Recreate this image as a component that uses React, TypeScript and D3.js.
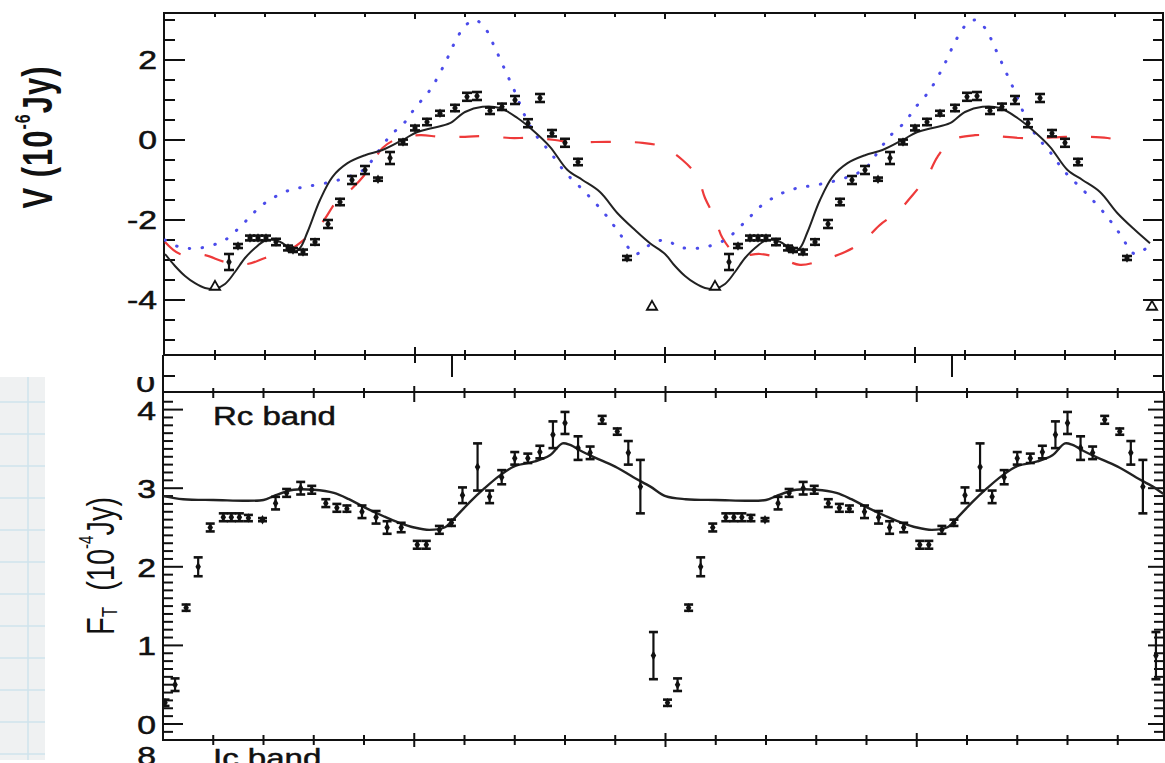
import React from "react";
import * as d3 from "d3";

// ---- V band (top panel), phase-folded, first cycle; repeated at phase + 1 ----
const PHASE_V = [0.128, 0.146, 0.170, 0.186, 0.202, 0.222, 0.246, 0.256, 0.276, 0.300, 0.326, 0.350, 0.374, 0.400, 0.426, 0.450, 0.476, 0.500, 0.524, 0.550, 0.580, 0.604, 0.624, 0.650, 0.674, 0.700, 0.726, 0.750, 0.774, 0.800, 0.826, 0.924];
const FLUX_V = [-3.05, -2.65, -2.45, -2.45, -2.45, -2.55, -2.7, -2.75, -2.8, -2.55, -2.1, -1.55, -1.0, -0.75, -0.98, -0.45, -0.05, 0.3, 0.45, 0.67, 0.8, 1.08, 1.1, 0.73, 0.83, 1.0, 0.42, 1.05, 0.17, -0.07, -0.55, -2.95];
const ERR_V = [0.2, 0.05, 0.06, 0.06, 0.06, 0.08, 0.06, 0.05, 0.06, 0.07, 0.1, 0.08, 0.1, 0.1, 0.04, 0.15, 0.06, 0.06, 0.08, 0.06, 0.08, 0.1, 0.1, 0.08, 0.08, 0.1, 0.1, 0.1, 0.08, 0.1, 0.08, 0.05];
// upper limits (open triangles)
const LIMIT_PHASE = [0.1, 0.974];
const LIMIT_V = [-3.67, -4.17];

// model curves for V
const SOLID_PHASE = [0.0, 0.02, 0.04, 0.06, 0.08, 0.10, 0.12, 0.14, 0.16, 0.18, 0.20, 0.22, 0.24, 0.255, 0.27, 0.285, 0.31, 0.335, 0.365, 0.40, 0.435, 0.475, 0.505, 0.535, 0.57, 0.60, 0.635, 0.67, 0.705, 0.735, 0.77, 0.805, 0.835, 0.87, 0.905, 0.94, 0.97];
const SOLID_V = [-2.85, -3.15, -3.4, -3.58, -3.7, -3.72, -3.6, -3.3, -2.95, -2.7, -2.52, -2.5, -2.62, -2.8, -2.7, -2.3, -1.5, -0.92, -0.58, -0.38, -0.25, 0.0, 0.2, 0.3, 0.42, 0.7, 0.83, 0.8, 0.55, 0.25, -0.17, -0.75, -1.0, -1.3, -1.83, -2.25, -2.58];
const DOTTED_PHASE = [0.0, 0.03, 0.07, 0.12, 0.15, 0.17, 0.19, 0.22, 0.25, 0.28, 0.32, 0.36, 0.40, 0.42, 0.45, 0.48, 0.50, 0.53, 0.56, 0.58, 0.60, 0.62, 0.64, 0.66, 0.68, 0.70, 0.72, 0.74, 0.77, 0.80, 0.84, 0.88, 0.91, 0.94, 0.97];
const DOTTED_V = [-2.5, -2.68, -2.7, -2.5, -2.17, -1.92, -1.67, -1.42, -1.25, -1.17, -1.08, -0.95, -0.72, -0.4, 0.1, 0.45, 0.8, 1.25, 1.92, 2.45, 2.85, 3.0, 2.8, 2.3, 1.75, 1.2, 0.6, 0.15, -0.3, -0.8, -1.3, -1.85, -2.35, -2.85, -2.62];
const DASHED_PHASE = [0.0, 0.03, 0.08, 0.12, 0.165, 0.2, 0.245, 0.285, 0.315, 0.345, 0.375, 0.405, 0.435, 0.465, 0.51, 0.55, 0.6, 0.64, 0.69, 0.73, 0.78, 0.82, 0.86, 0.91, 0.955, 0.995, 1.035, 1.065, 1.08, 1.10, 1.115, 1.145, 1.19, 1.23, 1.27, 1.315, 1.36, 1.395, 1.43, 1.465, 1.495, 1.525, 1.545, 1.575, 1.62, 1.66, 1.71, 1.75, 1.8, 1.845, 1.885, 1.93];
const DASHED_V = [-2.55, -2.85, -2.88, -3.05, -3.1, -2.95, -2.78, -2.42, -2.05, -1.5, -1.2, -0.78, -0.2, 0.03, 0.12, 0.08, 0.08, 0.1, 0.05, 0.05, 0.0, -0.07, -0.05, -0.05, -0.07, -0.17, -0.5, -0.92, -1.45, -1.95, -2.45, -2.87, -2.85, -2.95, -3.12, -3.0, -2.8, -2.55, -2.12, -1.8, -1.38, -0.9, -0.42, 0.0, 0.12, 0.1, 0.05, 0.05, 0.08, 0.08, 0.05, -0.07];

// ---- Rc band (bottom panel), first cycle; repeated at phase + 1 ----
const PHASE_RC = [0.004, 0.024, 0.046, 0.07, 0.094, 0.12, 0.136, 0.152, 0.17, 0.198, 0.224, 0.246, 0.274, 0.296, 0.324, 0.346, 0.366, 0.396, 0.424, 0.446, 0.474, 0.506, 0.524, 0.55, 0.574, 0.596, 0.626, 0.65, 0.674, 0.70, 0.726, 0.75, 0.776, 0.80, 0.826, 0.85, 0.874, 0.904, 0.926, 0.95, 0.976];
const FLUX_RC = [0.27, 0.5, 1.48, 2.0, 2.5, 2.63, 2.63, 2.63, 2.62, 2.6, 2.81, 2.94, 3.0, 2.98, 2.81, 2.75, 2.74, 2.7, 2.63, 2.5, 2.5, 2.28, 2.28, 2.47, 2.56, 2.91, 3.27, 2.89, 3.14, 3.38, 3.38, 3.46, 3.68, 3.83, 3.51, 3.45, 3.87, 3.72, 3.45, 3.02, 0.87];
const ERR_RC = [0.04, 0.08, 0.04, 0.12, 0.05, 0.05, 0.05, 0.05, 0.04, 0.02, 0.08, 0.05, 0.08, 0.05, 0.05, 0.05, 0.04, 0.08, 0.08, 0.08, 0.06, 0.05, 0.05, 0.05, 0.04, 0.1, 0.3, 0.08, 0.09, 0.08, 0.06, 0.08, 0.17, 0.14, 0.15, 0.08, 0.05, 0.04, 0.15, 0.34, 0.3];
const MODEL_RC_PHASE = [0.0, 0.04, 0.10, 0.20, 0.22, 0.26, 0.30, 0.34, 0.37, 0.40, 0.44, 0.47, 0.50, 0.53, 0.56, 0.58, 0.61, 0.64, 0.67, 0.70, 0.74, 0.77, 0.795, 0.81, 0.836, 0.87, 0.904, 0.936, 0.97];
const MODEL_RC = [2.9, 2.86, 2.85, 2.85, 2.9, 2.98, 2.98, 2.94, 2.86, 2.76, 2.64, 2.56, 2.5, 2.47, 2.5, 2.62, 2.82, 3.0, 3.16, 3.28, 3.34, 3.42, 3.57, 3.55, 3.46, 3.36, 3.26, 3.14, 3.02];

const X_TICKS = d3.range(0, 21).map((i) => i / 10);
const V_LABELS = [-4, -2, 0, 2];
const V_MINOR = d3.range(-10, 7).map((i) => i / 2);
const RC_LABELS = [0, 1, 2, 3, 4];
const RC_MINOR = d3.range(-1, 43).map((i) => i / 10);

const W = 1165;
const H = 763;
const INK = "#111";
const FONT = "'Liberation Sans', Arial, Helvetica, sans-serif";
const STRETCH = 1.35;

// panel frames
const TOP = { left: 164, right: 1163, top: 13, bottom: 355 };
const BOT = { left: 163, right: 1164, top: 392, bottom: 740 };

const xTop = d3.scaleLinear().domain([0, 2]).range([165, 1165]);
const yTop = d3.scaleLinear().domain([-4, 2]).range([300, 60]);
const xBot = d3.scaleLinear().domain([0, 2]).range([163, 1168]);
const yBot = d3.scaleLinear().domain([0, 4]).range([724, 409.6]);

function twoCycles(phase: number[], vals: number[], maxPhase = 2) {
  const pts: [number, number][] = [];
  for (const k of [0, 1, 2]) {
    phase.forEach((p, i) => {
      const q = p + k;
      if (q <= maxPhase + 1e-9) pts.push([q, vals[i]]);
    });
  }
  return pts;
}

function ErrPoint({ x, y, y0, y1, cap = 4.5 }: { x: number; y: number; y0: number; y1: number; cap?: number }) {
  const diamond = d3.symbol(d3.symbolDiamond, 26)() as string;
  return (
    <g stroke={INK} strokeWidth={2.2} fill={INK}>
      <line x1={x} x2={x} y1={y0} y2={y1} />
      <line x1={x - cap} x2={x + cap} y1={y0} y2={y0} strokeWidth={2.6} />
      <line x1={x - cap} x2={x + cap} y1={y1} y2={y1} strokeWidth={2.6} />
      <path d={diamond} transform={`translate(${x},${y})`} stroke="none" />
    </g>
  );
}

function Label({ x, y, text, size = 25, anchor = "end", stretch = STRETCH }: { x: number; y: number; text: string; size?: number; anchor?: string; stretch?: number }) {
  return (
    <text
      transform={`translate(${x},${y}) scale(${stretch},1)`}
      textAnchor={anchor as any}
      fontSize={size}
      fontFamily={FONT}
      fill={INK}
      stroke={INK}
      strokeWidth={0.5}
    >
      {text}
    </text>
  );
}

export default function App() {
  const solidPts = twoCycles(SOLID_PHASE, SOLID_V, 1.97);
  const dottedPts = twoCycles(DOTTED_PHASE, DOTTED_V, 1.97);
  const dashedPts = DASHED_PHASE.map((p, i) => [p, DASHED_V[i]] as [number, number]);
  const rcModelPts = twoCycles(MODEL_RC_PHASE, MODEL_RC, 2.05);

  const lineTop = d3
    .line<[number, number]>()
    .x((d) => xTop(d[0]))
    .y((d) => yTop(d[1]))
    .curve(d3.curveCatmullRom.alpha(0.5));
  const lineBot = d3
    .line<[number, number]>()
    .x((d) => xBot(d[0]))
    .y((d) => yBot(d[1]))
    .curve(d3.curveCatmullRom.alpha(0.5));

  const vPoints = twoCycles(PHASE_V, FLUX_V, 2).map(([p, v], i) => ({ p, v, e: ERR_V[i % PHASE_V.length] }));
  const rcPoints = twoCycles(PHASE_RC, FLUX_RC, 2).map(([p, v], i) => ({ p, v, e: ERR_RC[i % PHASE_RC.length] }));
  const limits = twoCycles(LIMIT_PHASE, LIMIT_V, 2);
  const tri = d3.symbol(d3.symbolTriangle, 45)() as string;

  const isMajorX = (t: number) => Math.abs(t * 2 - Math.round(t * 2)) < 1e-6;

  return (
    <svg
      width={W}
      height={H}
      viewBox={`0 0 ${W} ${H}`}
      style={{ position: "absolute", left: 0, top: 0, background: "#fff" }}
    >
      <defs>
        <clipPath id="clipTop">
          <rect x={TOP.left} y={TOP.top} width={TOP.right - TOP.left} height={TOP.bottom - TOP.top} />
        </clipPath>
        <clipPath id="clipBot">
          <rect x={BOT.left} y={BOT.top} width={BOT.right - BOT.left} height={BOT.bottom - BOT.top} />
        </clipPath>
        <clipPath id="clipZero">
          <rect x={100} y={377} width={60} height={20} />
        </clipPath>
      </defs>
      <rect x={0} y={0} width={W} height={H} fill="#fff" />

      {/* graph-paper strip at the lower left */}
      <g>
        <rect x={0} y={377} width={45} height={383} fill="#eff1f2" />
        {d3.range(0, 12).map((k) => (
          <line key={k} x1={0} x2={45} y1={402 + 32 * k} y2={402 + 32 * k} stroke="#cfe3ec" strokeWidth={1.5} />
        ))}
        <line x1={28} x2={28} y1={377} y2={760} stroke="#cfe3ec" strokeWidth={1.5} />
      </g>

      {/* ================= V panel ================= */}
      <g fill="none" stroke={INK} strokeWidth={2}>
        <rect x={TOP.left} y={TOP.top} width={TOP.right - TOP.left} height={TOP.bottom - TOP.top} />
        {X_TICKS.filter((t) => t > 0 && t < 2).map((t) => {
          const x = xTop(t);
          const maj = isMajorX(t);
          return (
            <g key={t}>
              <line x1={x} x2={x} y1={TOP.top} y2={TOP.top + (maj ? 6 : 4)} />
              <line x1={x} x2={x} y1={TOP.bottom - (maj ? 8 : 5)} y2={TOP.bottom + (maj ? 8 : 5)} />
            </g>
          );
        })}
        {V_MINOR.map((v) => {
          const y = yTop(v);
          if (y < TOP.top + 2 || y > TOP.bottom - 2) return null;
          const maj = V_LABELS.includes(v);
          return (
            <g key={v}>
              <line x1={TOP.left} x2={TOP.left + (maj ? 21 : 11)} y1={y} y2={y} />
              <line x1={TOP.right - (maj ? 20 : 10)} x2={TOP.right} y1={y} y2={y} />
            </g>
          );
        })}
      </g>
      {V_LABELS.map((v) => (
        <Label key={v} x={157} y={yTop(v) + 9} text={String(v)} />
      ))}
      <text
        transform={`translate(37,137) scale(${STRETCH},1) rotate(-90)`}
        textAnchor="middle"
        dominantBaseline="central"
        fontSize={31}
        fontWeight="bold"
        letterSpacing={1}
        fontFamily={FONT}
        fill={INK}
      >
        <tspan>V (10</tspan>
        <tspan fontSize={16} dy={-11}>-6</tspan>
        <tspan dy={11}>Jy)</tspan>
      </text>

      <g clipPath="url(#clipTop)" fill="none">
        <path d={lineTop(dashedPts) ?? ""} stroke="#ee3a3a" strokeWidth={2.2} strokeDasharray="20 24" />
        <path d={lineTop(dottedPts) ?? ""} stroke="#4b4bea" strokeWidth={3} strokeDasharray="0.5 12.5" strokeLinecap="round" />
        <path d={lineTop(solidPts) ?? ""} stroke="#222" strokeWidth={2} />
        {vPoints.map((d, i) => (
          <ErrPoint key={i} x={xTop(d.p)} y={yTop(d.v)} y0={yTop(d.v + d.e)} y1={yTop(d.v - d.e)} cap={5} />
        ))}
        {limits.map(([p, v], i) => (
          <path key={i} d={tri} transform={`translate(${xTop(p)},${yTop(v)})`} fill="#fff" stroke={INK} strokeWidth={1.8} />
        ))}
      </g>

      {/* fragments of the hidden frame between the panels */}
      <g stroke={INK} strokeWidth={2}>
        <line x1={163} x2={163} y1={TOP.bottom} y2={BOT.top} />
        <line x1={163} x2={175} y1={376} y2={376} />
        <line x1={1163} x2={1163} y1={TOP.bottom} y2={BOT.top} />
        <line x1={1153} x2={1163} y1={376} y2={376} />
        <line x1={452} x2={452} y1={TOP.bottom} y2={377} />
        <line x1={952} x2={952} y1={TOP.bottom} y2={377} />
      </g>
      <g clipPath="url(#clipZero)">
        <Label x={155} y={392} text="0" />
      </g>

      {/* ================= Rc panel ================= */}
      <g fill="none" stroke={INK} strokeWidth={2}>
        <rect x={BOT.left} y={BOT.top} width={BOT.right - BOT.left} height={BOT.bottom - BOT.top} />
        {X_TICKS.filter((t) => t > 0 && t < 2).map((t) => {
          const x = xBot(t);
          const maj = isMajorX(t);
          return (
            <g key={t}>
              <line x1={x} x2={x} y1={BOT.top - (maj ? 6 : 4)} y2={BOT.top + (maj ? 10 : 6)} />
              <line x1={x} x2={x} y1={BOT.bottom - (maj ? 7 : 5)} y2={BOT.bottom + (maj ? 7 : 5)} />
            </g>
          );
        })}
        {RC_MINOR.map((v) => {
          const y = yBot(v);
          if (y < BOT.top + 2 || y > BOT.bottom - 2) return null;
          const maj = Math.abs(v - Math.round(v)) < 1e-6;
          return (
            <g key={v}>
              <line x1={BOT.left} x2={BOT.left + (maj ? 20 : 10)} y1={y} y2={y} />
              <line x1={BOT.right - (maj ? 16 : 10)} x2={BOT.right} y1={y} y2={y} />
            </g>
          );
        })}
      </g>
      {RC_LABELS.map((v) => (
        <Label key={v} x={156} y={yBot(v) + 10} text={String(v)} />
      ))}
      <Label x={156} y={765} text="8" />
      <Label x={213} y={425} text="Rc band" anchor="start" size={26} stretch={1.27} />
      <Label x={213} y={767} text="Ic band" anchor="start" size={26} stretch={1.27} />
      <text
        transform={`translate(100,566) scale(${STRETCH},1) rotate(-90)`}
        textAnchor="middle"
        dominantBaseline="central"
        fontSize={29}
        fontFamily={FONT}
        fill={INK}
      >
        <tspan>F</tspan>
        <tspan fontSize={17} dy={7}>T</tspan>
        <tspan dy={-7}>{"\u00a0\u00a0(10"}</tspan>
        <tspan fontSize={15} dy={-10}>-4</tspan>
        <tspan dy={10}>Jy)</tspan>
      </text>

      <g clipPath="url(#clipBot)" fill="none">
        <path d={lineBot(rcModelPts) ?? ""} stroke="#222" strokeWidth={2.4} />
        {rcPoints.map((d, i) => (
          <ErrPoint key={i} x={xBot(d.p)} y={yBot(d.v)} y0={yBot(d.v + d.e)} y1={yBot(d.v - d.e)} />
        ))}
      </g>
    </svg>
  );
}
